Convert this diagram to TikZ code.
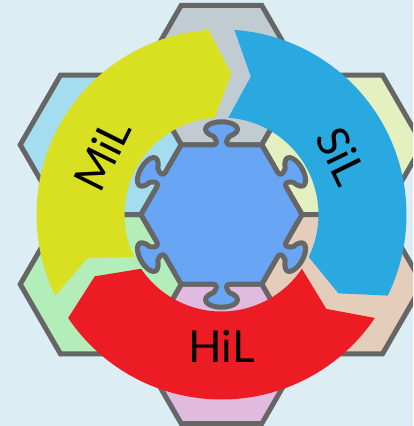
\documentclass[tikz,border=0pt]{standalone}
\usepackage{fontspec}
\setmainfont{Lato}
\definecolor{bgcol}{HTML}{DCEDF4}
\definecolor{edgecol}{HTML}{666666}
\definecolor{hexN}{HTML}{C0CCD2}
\definecolor{hexNW}{HTML}{A4DDF0}
\definecolor{hexNE}{HTML}{E4F0BF}
\definecolor{hexSW}{HTML}{B3EEBA}
\definecolor{hexSE}{HTML}{E5CDBC}
\definecolor{hexS}{HTML}{E0BADF}
\definecolor{coreblue}{HTML}{68A5F5}
\definecolor{milyellow}{HTML}{D9E021}
\definecolor{silblue}{HTML}{29A9E0}
\definecolor{hilred}{HTML}{ED1C24}
% circumradius of every cell
\newcommand\hexR{80.5}
% flat-topped hexagonal cell: #1 centre, #2 fill colour
\newcommand\hexcell[2]{%
  \draw[cell, fill=#2] (#1) ++(0:\hexR) -- ++(120:\hexR) -- ++(180:\hexR)
    -- ++(240:\hexR) -- ++(300:\hexR) -- ++(0:\hexR) -- cycle;}
% curved chevron arrow on the ring: #1 middle angle, #2 colour
\newcommand\ringarrow[2]{%
  \fill[#2] (#1+56:185) arc[start angle=#1+56, end angle=#1-56, radius=185]
    -- (#1-64:141) -- (#1-56:97)
    arc[start angle=#1-56, end angle=#1+56, radius=97]
    -- (#1+48:141) -- cycle;}
\begin{document}
\begin{tikzpicture}[x=1pt, y=1pt,
  cell/.style={draw=edgecol, line width=5pt},
  core/.style={draw=edgecol, fill=coreblue, line width=5pt, line join=round},
  edgeframe/.style={shift={(#1:69.715)}, rotate=#1-90},
  lbl/.style={font=\fontsize{44}{48}\selectfont, inner sep=0pt, text=black}]
  % background
  \fill[bgcol] (-221.5,-211.5) rectangle (191.5,214.5);
  \useasboundingbox (-221.5,-211.5) rectangle (191.5,214.5);
  \clip (-221.5,-211.5) rectangle (191.5,214.5);
  % centres of the surrounding cells
  \coordinate (cN)  at (90:139.43);
  \coordinate (cNE) at (30:139.43);
  \coordinate (cSE) at (-30:139.43);
  \coordinate (cS)  at (-90:139.43);
  \coordinate (cSW) at (-150:139.43);
  \coordinate (cNW) at (150:139.43);
  \hexcell{cN}{hexN}
  \hexcell{cNE}{hexNE}
  \hexcell{cSE}{hexSE}
  \hexcell{cS}{hexS}
  \hexcell{cSW}{hexSW}
  \hexcell{cNW}{hexNW}
  % central puzzle piece with a knob on each side
  \draw[core] ([edgeframe=90]-40.25,0)
    \foreach \a in {90,30,-30,-90,-150,-210}{
      -- ([edgeframe=\a]-8.5,0)
      .. controls ([edgeframe=\a]-4,0) and ([edgeframe=\a]-4,4) .. ([edgeframe=\a]-8,8.5)
      .. controls ([edgeframe=\a]-23,14) and ([edgeframe=\a]-15,23) .. ([edgeframe=\a]0,23)
      .. controls ([edgeframe=\a]15,23) and ([edgeframe=\a]23,14) .. ([edgeframe=\a]8,8.5)
      .. controls ([edgeframe=\a]4,4) and ([edgeframe=\a]4,0) .. ([edgeframe=\a]8.5,0)
      -- ([edgeframe=\a]40.25,0)
    } -- cycle;
  % the cycle of three arrows
  \ringarrow{150}{milyellow}
  \ringarrow{30}{silblue}
  \ringarrow{-90}{hilred}
  % labels
  \node[lbl, rotate=63.5] (milText) at (153.5:133.5) {MiL};
  \node[lbl, rotate=-64]  (silText) at (26:133.5) {SiL};
  \node[lbl]              (hilText) at (-90:131.5) {HiL};
\end{tikzpicture}
\end{document}
